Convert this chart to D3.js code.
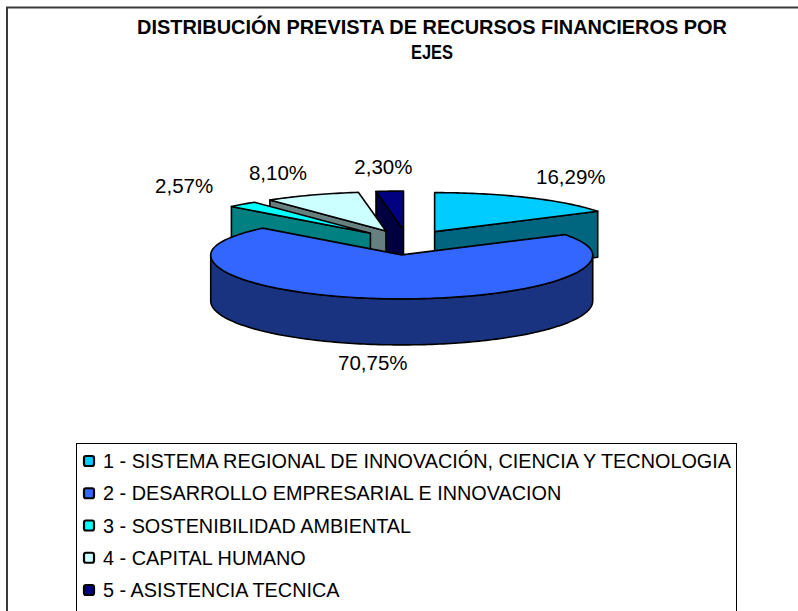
<!DOCTYPE html>
<html>
<head>
<meta charset="utf-8">
<script src="https://cdn.jsdelivr.net/npm/d3@7"></script>
<style>
  html, body { margin: 0; padding: 0; background: #ffffff; }
  svg { display: block; }
</style>
</head>
<body>
<script>
// ---- data ----
const titleLines = ["DISTRIBUCIÓN PREVISTA DE RECURSOS FINANCIEROS POR", "EJES"];
const categories = [
  "1 - SISTEMA REGIONAL DE INNOVACIÓN, CIENCIA Y TECNOLOGIA",
  "2 - DESARROLLO EMPRESARIAL E INNOVACION",
  "3 - SOSTENIBILIDAD AMBIENTAL",
  "4 - CAPITAL HUMANO",
  "5 - ASISTENCIA TECNICA"
];
const values = [16.29, 70.75, 2.57, 8.10, 2.30];
const valueLabels = ["16,29%", "70,75%", "2,57%", "8,10%", "2,30%"];
const topColors = ["#00CCFF", "#3366FF", "#00FFFF", "#CCFFFF", "#000080"];
const sideColors = ["#00667F", "#1A3380", "#008080", "#668080", "#000040"];

// ---- layout ----
const W = 798, H = 611;
const FONT = "Liberation Sans, Arial, sans-serif";
const svg = d3.select("body").append("svg").attr("width", W).attr("height", H);
svg.append("rect").attr("x", 0).attr("y", 0).attr("width", W).attr("height", H).attr("fill", "#fff");

// outer chart frame (continues past the right and bottom edges)
svg.append("rect").attr("x", 7).attr("y", 7.5).attr("width", 900).attr("height", 900)
  .attr("fill", "#fff").attr("stroke", "#3a3a3a").attr("stroke-width", 2);

// title
const titleX = 432;
svg.append("text").attr("x", titleX).attr("y", 33.5)
  .attr("text-anchor", "middle").attr("font-family", FONT)
  .attr("font-weight", "bold").attr("font-size", 20)
  .attr("textLength", 590).attr("lengthAdjust", "spacingAndGlyphs")
  .attr("fill", "#000").text(titleLines[0]);
svg.append("text").attr("x", titleX).attr("y", 58.5)
  .attr("text-anchor", "middle").attr("font-family", FONT)
  .attr("font-weight", "bold").attr("font-size", 20)
  .attr("textLength", 42).attr("lengthAdjust", "spacingAndGlyphs")
  .attr("fill", "#000").text(titleLines[1]);

// ---- 3D pie ----
const cx = 407.5, cy = 242.5;
const rx = 191, ryBack = 39, ryFront = 44, depth = 46;
const explode = 0.29, ryExplode = 43;

const pie = d3.pie().sort(null).value(d => d);
const arcs = pie(values).map((a, i) => {
  const m = (a.startAngle + a.endAngle) / 2;
  return Object.assign(a, {
    i, mid: m,
    ox: rx * explode * Math.sin(m),
    oy: -ryExplode * explode * Math.cos(m)
  });
});

function P(t, a, z) {
  const c = Math.cos(t);
  const ry = c > 0 ? ryBack : ryFront;
  return [cx + a.ox + rx * Math.sin(t), cy + a.oy - ry * c + (z || 0)];
}
function apex(a, z) { return [cx + a.ox, cy + a.oy + (z || 0)]; }
function rimPts(a, t0, t1, z) {
  const n = Math.max(2, Math.ceil((t1 - t0) / 0.02));
  return d3.range(n + 1).map(k => P(t0 + (t1 - t0) * k / n, a, z));
}

const closed = d3.line().curve(d3.curveLinearClosed);
const gPie = svg.append("g")
  .attr("stroke", "#000").attr("stroke-width", 1.6).attr("stroke-linejoin", "round");

// painter's order: farthest (back) slices first
const order = arcs.slice().sort((p, q) => Math.cos(q.mid) - Math.cos(p.mid));

order.forEach(a => {
  const g = gPie.append("g");
  const s = a.startAngle, e = a.endAngle;
  if (Math.sin(s) < -1e-6) {
    g.append("path").attr("fill", sideColors[a.i])
      .attr("d", closed([apex(a), P(s, a), P(s, a, depth), apex(a, depth)]));
  }
  if (Math.sin(e) > 1e-6) {
    g.append("path").attr("fill", sideColors[a.i])
      .attr("d", closed([apex(a), P(e, a), P(e, a, depth), apex(a, depth)]));
  }
  const r0 = Math.max(s, Math.PI / 2), r1 = Math.min(e, 3 * Math.PI / 2);
  if (r1 > r0) {
    const top = rimPts(a, r0, r1, 0);
    const bot = rimPts(a, r0, r1, depth).reverse();
    g.append("path").attr("fill", sideColors[a.i]).attr("d", closed(top.concat(bot)));
  }
  g.append("path").attr("fill", topColors[a.i])
    .attr("d", closed([apex(a)].concat(rimPts(a, s, e, 0))));
});

// data labels placed on a larger ellipse around each slice's apex
const labRx = 278, labRyBack = ryBack + 24.5, labRyFront = ryFront + depth + 18;
const gLab = svg.append("g").attr("font-family", FONT)
  .attr("font-size", 20.5).attr("fill", "#000");
arcs.forEach(a => {
  const m = a.mid, c = Math.cos(m);
  const ap = apex(a);
  const x = ap[0] + labRx * Math.sin(m);
  const y = ap[1] - c * (c > 0 ? labRyBack : labRyFront);
  gLab.append("text").attr("text-anchor", "middle")
    .attr("x", x).attr("y", y + 7.3).text(valueLabels[a.i]);
});

// ---- legend ----
const legX = 76.5, legY = 443.5, legW = 660;
svg.append("rect").attr("x", legX).attr("y", legY).attr("width", legW).attr("height", 300)
  .attr("fill", "#fff").attr("stroke", "#000").attr("stroke-width", 1);

const rowY = d3.scalePoint().domain(categories).range([461, 590]);
const gLeg = svg.append("g");
const texts = categories.map((c, i) => {
  const yc = rowY(c);
  gLeg.append("rect").attr("x", 84).attr("y", yc - 5).attr("width", 10).attr("height", 10)
    .attr("rx", 2).attr("fill", topColors[i]).attr("stroke", "#000").attr("stroke-width", 2.2);
  return gLeg.append("text").attr("x", 103).attr("y", yc + 7)
    .attr("font-family", FONT).attr("font-size", 20)
    .attr("fill", "#000").text(c);
});
// condense legend text uniformly so the longest entry spans the reference width
const k = 628 / texts[0].node().getComputedTextLength();
texts.forEach(t => {
  t.attr("textLength", t.node().getComputedTextLength() * k)
   .attr("lengthAdjust", "spacingAndGlyphs");
});
</script>
</body>
</html>
